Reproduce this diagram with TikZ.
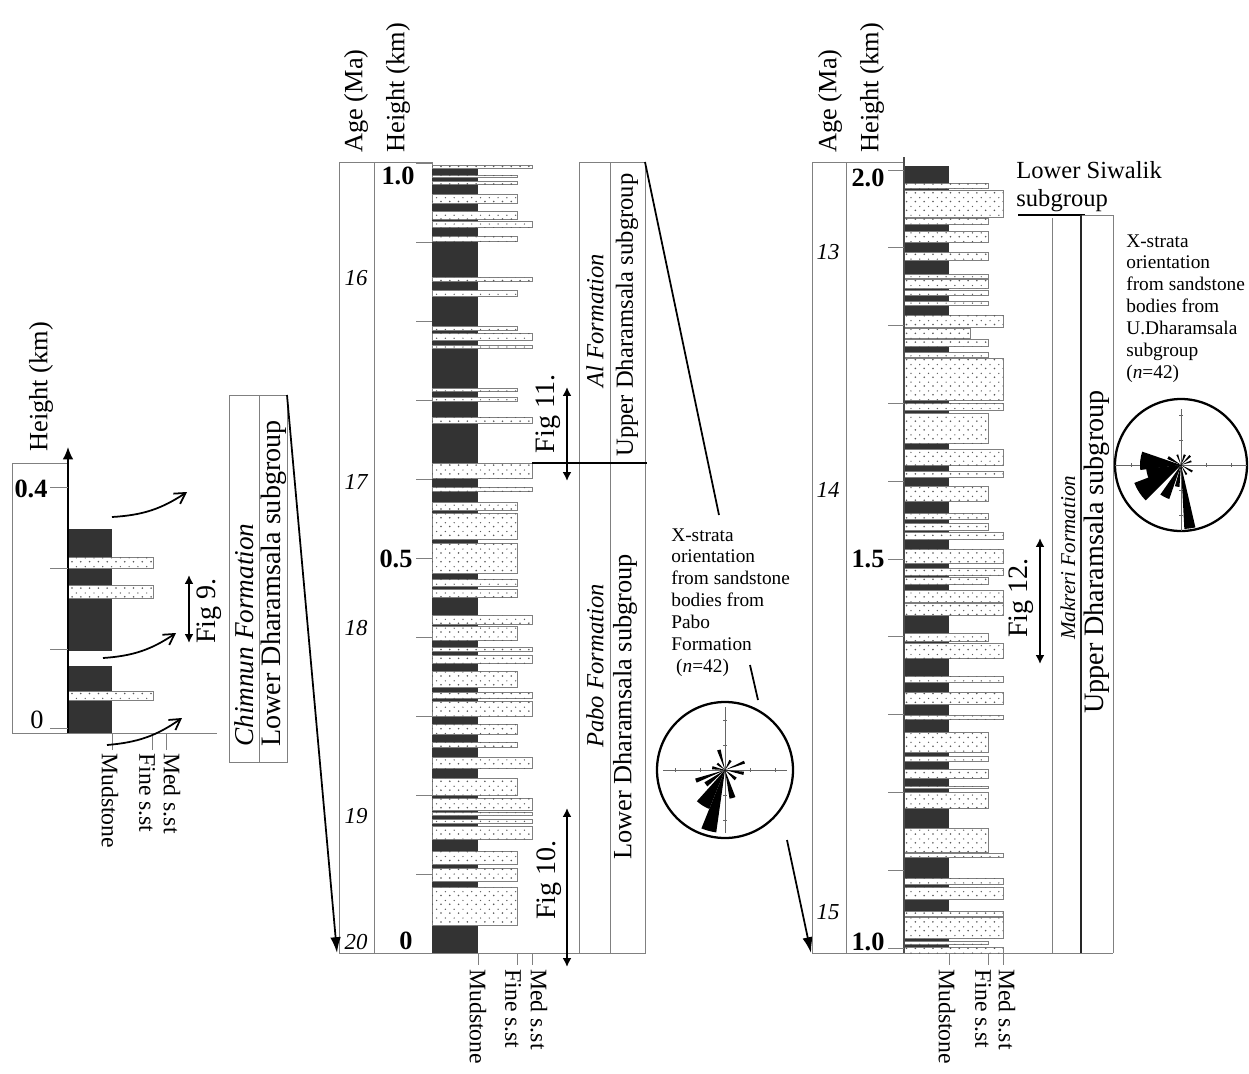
\documentclass[tikz,border=0pt]{standalone}
\usepackage{fontspec}
\setmainfont{Liberation Serif}
\usetikzlibrary{arrows.meta, patterns}

\pgfdeclarepatternformonly{sanddots}{\pgfqpoint{-1pt}{-1pt}}{\pgfqpoint{6pt}{6pt}}{\pgfqpoint{5pt}{5pt}}{
  \pgfpathcircle{\pgfqpoint{1pt}{1pt}}{.5pt}
  \pgfpathcircle{\pgfqpoint{3.5pt}{3.2pt}}{.4pt}
  \pgfusepath{fill}
}

\tikzset{
  frame/.style={draw=black!50, line width=0.5pt},
  mud/.style={fill=black!80},
  sand/.style={draw=black!50, line width=0.5pt, fill=white, postaction={pattern=sanddots, pattern color=black!65}},
  axtitle/.style={font=\fontsize{15}{17}\selectfont, rotate=90, anchor=west, inner sep=0pt},
  agelbl/.style={font=\fontsize{13}{15}\selectfont\itshape},
  hgtlbl/.style={font=\fontsize{15}{17}\selectfont\bfseries},
  legend/.style={font=\fontsize{13.5}{16}\selectfont, rotate=-90, anchor=west, inner sep=0pt},
  figlbl/.style={font=\fontsize{16}{18}\selectfont, rotate=90},
  figarr/.style={line width=1.2pt, {Latex[length=5pt,width=5pt]}-{Latex[length=5pt,width=5pt]}},
  corr/.style={line width=1pt, -{Latex[length=9pt,width=6pt]}},
  curv/.style={line width=1pt, -{Straight Barb[length=6pt,width=7pt]}},
  rosetxt/.style={font=\fontsize{11}{12.5}\selectfont, align=left, anchor=north west, inner sep=0pt},
  petal/.style={fill=black}
}

% wedge of a rose diagram: azimuth, length, half width
\newcommand{\rosepetal}[3]{%
  \fill[petal] (0,0) -- ({#1-90-#3}:#2) -- ({#1-90-#3/2}:#2) -- ({#1-90}:#2)
    -- ({#1-90+#3/2}:#2) -- ({#1-90+#3}:#2) -- cycle;}

\begin{document}
\begin{tikzpicture}[x=0.02cm, y=-0.02cm]
  \useasboundingbox (0,0) rectangle (1249,1073);

  % left column
  \draw[frame] (12,463) rectangle (68,733);
  \draw[frame] (12,733) -- (217,733);
  \fill[mud] (68,529) rectangle (112,651);
  \fill[mud] (68,666) rectangle (112,733);
  \foreach \ya/\yb in {557/568, 585/598, 691/700}
    \draw[sand] (68,\ya) rectangle (153,\yb);
  \draw[line width=0.9pt, -{Latex[length=7pt,width=6pt]}] (68,733) -- (68,447);
  \foreach \y in {487, 568, 649, 728}
    \draw[frame] (50,\y) -- (68,\y);
  \node[axtitle] (lhgt) at (41,452) {Height (km)};
  \node[hgtlbl] (l04) at (31,489) {0.4};
  \node[hgtlbl, font=\fontsize{15}{17}\selectfont] (l00) at (37,720) {0};
  \foreach \x/\lx/\t [count=\i] in {112/110/Mudstone, 152/147/Fine s.st, 166/172/Med s.st} {
    \draw[frame] (\x,733) -- (\x,750);
    \node[legend] (lleg\i) at (\lx,753) {\t};
  }
  \draw[curv] (112,517) to[bend right=15] (187,492);
  \draw[curv] (103,658) to[bend right=15] (176,633);
  \draw[curv] (107,745) to[bend right=15] (182,718);
  \coordinate (f9a) at (189,575);
  \coordinate (f9b) at (189,643);
  \draw[figarr] (f9a) -- (f9b);
  \node[figlbl] (fig9) at (209,611) {Fig 9.};

  % Chimnun box
  \draw[frame] (229,395) rectangle (287,762);
  \draw[frame] (259,395) -- (259,762);
  \node[axtitle, font=\fontsize{15.5}{17}\selectfont\itshape] (chim) at (244,747) {Chimnun Formation};
  \node[axtitle, font=\fontsize{16}{18}\selectfont] (chimsub) at (274,747) {Lower Dharamsala subgroup};

  % middle column
  \def\mF{517}
  \def\mD{532}
  \draw[frame] (339,162) rectangle (374,953);
  \draw[frame] (374,162) -- (432,162) -- (432,953);
  \draw[frame] (339,953) -- (645,953);
  \fill[mud] (432,168) rectangle (478,953);
  \foreach \ya/\yb/\w in {165/168/\mD, 175/177/\mF, 181/184/\mF, 194/203/\mF, 211/219/\mF, 221/227/\mD,
      236/241/\mF, 277/281/\mD, 290/296/\mF, 326/330/\mF, 333/340/\mD, 345/348/\mD, 388/391/\mF,
      397/401/\mF, 417/423/\mD, 463/478/\mD, 487/491/\mD, 502/510/\mF, 513/539/\mF, 543/573/\mF,
      579/586/\mF, 589/597/\mF, 615/624/\mD, 626/640/\mF, 647/651/\mD, 655/663/\mD, 671/687/\mF,
      692/698/\mD, 701/716/\mD, 724/734/\mF, 742/747/\mF, 757/768/\mD, 778/795/\mF, 798/810/\mD,
      812/815/\mD, 819/823/\mD, 826/839/\mD, 851/864/\mF, 868/881/\mF, 887/925/\mF}
    \draw[sand] (432,\ya) rectangle (\w,\yb);
  \foreach \k in {0,...,10}
    \draw[frame] (416,163+79*\k) -- (432,163+79*\k);
  \node[axtitle] (mage) at (356,153) {Age (Ma)};
  \node[axtitle] (mhgt) at (398,153) {Height (km)};
  \foreach \y/\t in {278/16, 482/17, 628/18, 816/19, 942/20}
    \node[agelbl] (mage\t) at (356,\y) {\t};
  \node[hgtlbl] (m10) at (398,176) {1.0};
  \node[hgtlbl] (m05) at (396,559) {0.5};
  \node[hgtlbl] (m00) at (406,941) {0};
  \foreach \x/\lx/\t [count=\i] in {478/478/Mudstone, 517/513/Fine s.st, 532/539/Med s.st} {
    \draw[frame] (\x,953) -- (\x,965);
    \node[legend] (mleg\i) at (\lx,969) {\t};
  }
  % middle formations
  \draw[frame] (579,162) rectangle (645,953);
  \draw[frame] (610,162) -- (610,953);
  \draw[line width=1pt] (532,463) -- (647,463);
  \node[font=\fontsize{14}{16}\selectfont\itshape, rotate=90] (alf) at (595,321) {Al Formation};
  \node[font=\fontsize{14}{16}\selectfont, rotate=90] (udsub) at (627,315) {Upper Dharamsala subgroup};
  \node[font=\fontsize{14}{16}\selectfont\itshape, rotate=90] (pabo) at (595,666) {Pabo Formation};
  \node[font=\fontsize{15}{17}\selectfont, rotate=90] (ldsub) at (625,707) {Lower Dharamsala subgroup};
  \coordinate (f11a) at (567,387);
  \coordinate (f11b) at (567,481);
  \draw[figarr] (f11a) -- (f11b);
  \node[figlbl] (fig11) at (548,414) {Fig 11.};
  \coordinate (f10a) at (567,808);
  \coordinate (f10b) at (567,967);
  \draw[figarr] (f10a) -- (f10b);
  \node[figlbl] (fig10) at (549,880) {Fig 10.};

  % correlation lines
  \coordinate (chimTR) at (287,395);
  \coordinate (midBL) at (337,953);
  \draw[corr] (chimTR) -- (midBL);
  \coordinate (alTR) at (645,162);
  \coordinate (txtA) at (719,515);
  \coordinate (txtB) at (750,665);
  \coordinate (txtC) at (758,700);
  \coordinate (roseA) at (787,840);
  \coordinate (rightBL) at (811,953);
  \draw[line width=1pt] (alTR) -- (txtA);
  \draw[line width=1pt] (txtB) -- (txtC);
  \draw[corr] (roseA) -- (rightBL);

  % middle rose
  \node[rosetxt] (pabotxt) at (671,528) {X-strata\\orientation\\from sandstone\\bodies from\\Pabo\\Formation\\\ (\textit{n}=42)};
  \begin{scope}[shift={(725,770)}]
    \draw[line width=1.3pt] (0,0) circle[radius=68];
    \draw[black!60, line width=0.4pt] (-62,0) -- (62,0) (0,-63) -- (0,63);
    \foreach \d in {-50,-25,25,50}
      \draw[black!60, line width=0.4pt] (\d,-2) -- (\d,2) (-2,\d) -- (2,\d);
    \foreach \az/\len/\hw in {195/63/7, 212/42/10, 165/29/6, 250/31/4, 68/21/4, 343/21/5,
        100/19/5, 30/11/7, 130/14/7, 280/13/7, 233/24/6, 310/10/7}
      {\rosepetal{\az}{\len}{\hw}}
  \end{scope}

  % right column
  \def\rF{988}
  \def\rD{1003}
  \draw[frame] (812,162) rectangle (846,953);
  \draw[frame] (846,162) -- (904,162);
  \draw[frame] (812,953) -- (1113,953);
  \fill[mud] (904,166) rectangle (949,953);
  \foreach \ya/\yb/\w in {183/188/\rF, 190/217/\rD, 218/224/\rF, 231/242/\rF, 252/260/\rF, 274/278/\rF,
      279/288/\rF, 290/295/\rF, 301/305/\rF, 315/327/\rD, 328/338/970, 339/346/\rF, 352/357/\rF,
      358/400/\rD, 403/410/\rD, 413/443/\rF, 449/465/\rD, 471/477/\rD, 486/501/\rF, 513/519/\rF,
      523/530/\rF, 532/539/\rD, 549/563/\rD, 568/575/\rD, 577/584/\rF, 590/602/\rD, 603/615/\rD,
      633/641/\rF, 643/658/\rD, 676/682/\rD, 692/704/\rD, 715/719/\rD, 732/752/\rF, 756/761/\rF,
      769/778/\rF, 786/788/\rF, 792/808/\rF, 828/852/\rF, 853/857/\rD, 878/884/\rD, 887/899/\rD,
      911/916/\rD, 917/938/\rD, 941/944/\rF, 947/953/\rD}
    \draw[sand] (904,\ya) rectangle (\w,\yb);
  \draw[black!70, line width=0.7pt] (904,157) -- (904,953);
  \foreach \k in {0,...,10}
    \draw[frame] (888,170+77.8*\k) -- (904,170+77.8*\k);
  \node[axtitle] (rage) at (830,153) {Age (Ma)};
  \node[axtitle] (rhgt) at (872,153) {Height (km)};
  \foreach \y/\t in {252/13, 490/14, 912/15}
    \node[agelbl] (rage\t) at (828,\y) {\t};
  \node[hgtlbl] (r20) at (868,178) {2.0};
  \node[hgtlbl] (r15) at (868,559) {1.5};
  \node[hgtlbl] (r10) at (868,942) {1.0};
  \foreach \x/\lx/\t [count=\i] in {949/947/Mudstone, 988/983/Fine s.st, 1003/1007/Med s.st} {
    \draw[frame] (\x,953) -- (\x,965);
    \node[legend] (rleg\i) at (\lx,969) {\t};
  }
  % right formations
  \node[font=\fontsize{14}{16}\selectfont, align=left, anchor=north west, inner sep=0pt] (lsiw) at (1016,161) {Lower Siwalik\\subgroup};
  \draw[line width=1.6pt] (1018,215) -- (1085,215);
  \draw[frame] (1081,215) -- (1113,215) -- (1113,953);
  \draw[frame] (1052,218) -- (1052,953);
  \draw[black!85, line width=0.7pt] (1081,215) -- (1081,953);
  \node[axtitle, font=\fontsize{12}{14}\selectfont\itshape] (makr) at (1068,640) {Makreri Formation};
  \node[axtitle, font=\fontsize{16}{18}\selectfont] (rudsub) at (1097,714) {Upper Dharamsala subgroup};
  \coordinate (f12a) at (1040,538);
  \coordinate (f12b) at (1040,664);
  \draw[figarr] (f12a) -- (f12b);
  \node[figlbl] (fig12) at (1021,598) {Fig 12.};

  % right rose
  \node[rosetxt] (udtxt) at (1126,234) {X-strata\\orientation\\from sandstone\\bodies from\\U.Dharamsala\\subgroup\\(\textit{n}=42)};
  \begin{scope}[shift={(1181,465)}]
    \draw[line width=1.3pt] (0,0) circle[radius=66];
    \draw[black!60, line width=0.4pt] (-66,0) -- (66,0) (0,-56) -- (0,66);
    \foreach \d in {-50,-25,25,50}
      \draw[black!60, line width=0.4pt] (\d,-2) -- (\d,2) (-2,\d) -- (2,\d);
    \foreach \az/\len/\hw in {172/64/5, 237/50/12, 276/41/13, 207/36/8, 254/35/10, 20/11/6,
        45/13/5, 70/11/5, 120/13/5, 150/11/5, 340/11/5, 300/15/6, 190/22/6}
      {\rosepetal{\az}{\len}{\hw}}
  \end{scope}
\end{tikzpicture}
\end{document}
